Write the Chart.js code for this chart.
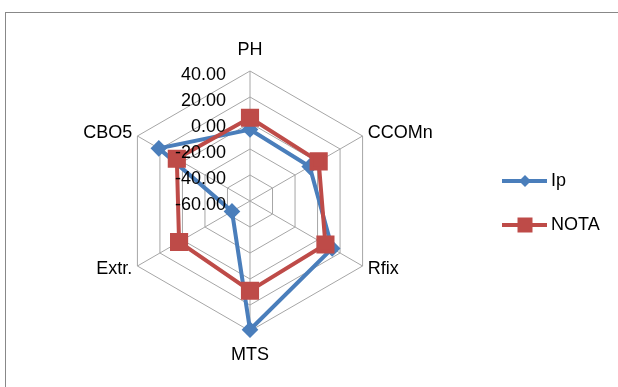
<!DOCTYPE html>
<html>
<head>
    <meta charset="UTF-8">
    <script src="https://cdn.jsdelivr.net/npm/chart.js"></script>
    <style>
        html, body { margin: 0; padding: 0; background: #fff; }
        #wrap { position: relative; width: 618px; height: 387px; overflow: hidden; }
        #frame {
            position: absolute; left: 5px; top: 12px; width: 700px; height: 500px;
            border-left: 1px solid #888; border-top: 1px solid #888;
        }
        #radar { position: absolute; left: 0; top: 0; }
    </style>
</head>
<body>
    <div id="wrap">
        <div id="frame"></div>
        <canvas id="radar" width="618" height="387"></canvas>
    </div>

    <script>
        const categories = ['PH', 'CCOMn', 'Rfix', 'MTS', 'Extr.', 'CBO5'];
        const seriesNames = ['Ip', 'NOTA'];
        const ipValues = [-5, -7, 13, 39, -44, 21];
        const notaValues = [4, 1, 7, 9, 3, 5];
        const scaleMin = -60;
        const scaleMax = 40;
        const scaleStep = 20;

        const labelFont = '18px "Liberation Sans", Arial, sans-serif';

        // tick labels, axis names and legend drawn the way Excel lays them out
        const excelText = {
            id: 'excelText',
            afterDraw(chart) {
                const ctx = chart.ctx;
                const r = chart.scales.r;
                ctx.save();
                ctx.font = labelFont;
                ctx.fillStyle = '#000';
                ctx.textBaseline = 'middle';

                ctx.textAlign = 'right';
                r.ticks.forEach(t => {
                    const d = r.getDistanceFromCenterForValue(t.value);
                    ctx.fillText(t.value.toFixed(2), r.xCenter - 24, r.yCenter - d + 4);
                });

                categories.forEach((name, i) => {
                    const base = r.getPointPosition(i, r.drawingArea);
                    const dx = base.x - r.xCenter;
                    let p;
                    if (Math.abs(dx) < 1) {
                        p = r.getPointPosition(i, r.drawingArea + (base.y < r.yCenter ? 21 : 24));
                        ctx.textAlign = 'center';
                    } else {
                        p = r.getPointPosition(i, r.drawingArea + 6);
                        ctx.textAlign = dx > 0 ? 'left' : 'right';
                    }
                    ctx.fillText(name, p.x, p.y);
                });

                // legend
                chart.data.datasets.forEach((ds, k) => {
                    const y = 181 + k * 44;
                    ctx.strokeStyle = ds.borderColor;
                    ctx.lineWidth = 4;
                    ctx.beginPath();
                    ctx.moveTo(502, y);
                    ctx.lineTo(547, y);
                    ctx.stroke();
                    ctx.fillStyle = ds.pointBackgroundColor;
                    ctx.beginPath();
                    if (ds.pointStyle === 'rect') {
                        ctx.rect(525 - 7.5, y - 7.5, 15, 15);
                    } else {
                        ctx.moveTo(525 - 6, y);
                        ctx.lineTo(525, y - 6);
                        ctx.lineTo(525 + 6, y);
                        ctx.lineTo(525, y + 6);
                        ctx.closePath();
                    }
                    ctx.fill();
                    ctx.fillStyle = '#000';
                    ctx.textAlign = 'left';
                    ctx.fillText(ds.label, 551, y);
                });
                ctx.restore();
            }
        };

        const ctx = document.getElementById('radar').getContext('2d');
        new Chart(ctx, {
            type: 'radar',
            data: {
                labels: categories,
                datasets: [{
                    label: seriesNames[0],
                    data: ipValues,
                    borderColor: '#4a7ebb',
                    backgroundColor: '#4a7ebb',
                    pointBackgroundColor: '#4a7ebb',
                    pointBorderColor: '#4a7ebb',
                    pointStyle: 'rectRot',
                    pointRadius: 5.5,
                    borderWidth: 4,
                    fill: false,
                    order: 1
                }, {
                    label: seriesNames[1],
                    data: notaValues,
                    borderColor: '#be4b48',
                    backgroundColor: '#be4b48',
                    pointBackgroundColor: '#be4b48',
                    pointBorderColor: '#be4b48',
                    pointStyle: 'rect',
                    pointRadius: 10,
                    borderWidth: 4,
                    fill: false,
                    order: 0
                }]
            },
            options: {
                responsive: false,
                animation: false,
                layout: { padding: { left: 120, right: 238, top: 71, bottom: 56 } },
                plugins: {
                    legend: { display: false },
                    tooltip: { enabled: false }
                },
                elements: { line: { tension: 0 } },
                scales: {
                    r: {
                        min: scaleMin,
                        max: scaleMax,
                        ticks: { stepSize: scaleStep, display: false },
                        grid: { color: '#a6a6a6', lineWidth: 1 },
                        angleLines: { color: '#a6a6a6', lineWidth: 1 },
                        pointLabels: { display: false }
                    }
                }
            },
            plugins: [excelText]
        });
    </script>
</body>
</html>
